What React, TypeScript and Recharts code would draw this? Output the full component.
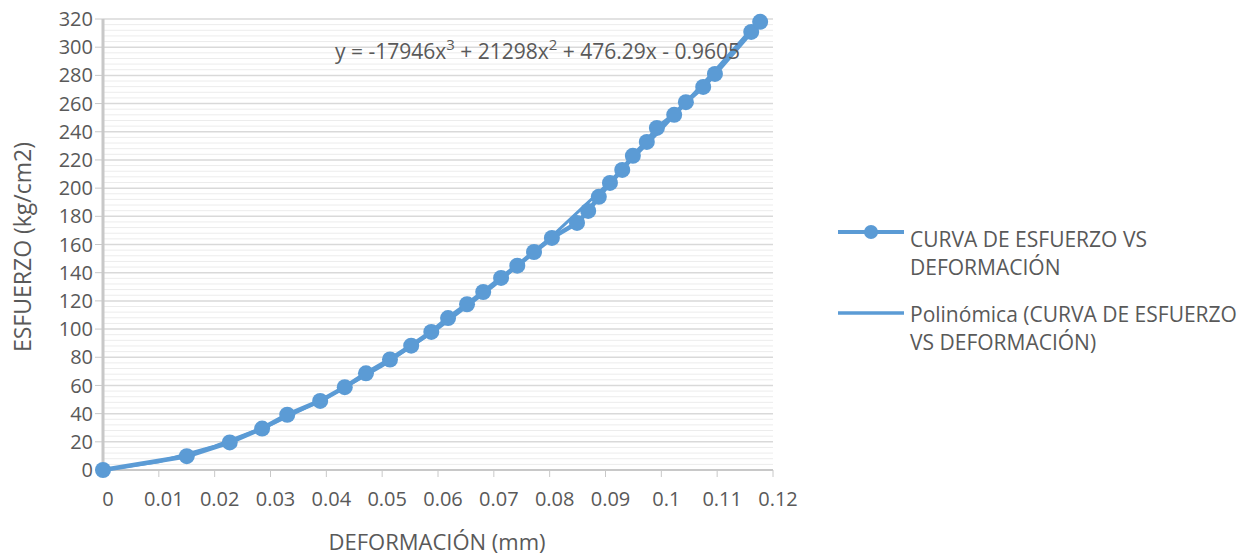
import {
  ScatterChart,
  Scatter,
  XAxis,
  YAxis,
  CartesianGrid,
} from "recharts";

// deformación (mm) y esfuerzo (kg/cm2)
const deformacion = [
  0, 0.0150, 0.0227, 0.0285, 0.0330, 0.0389, 0.0433, 0.0471, 0.0514, 0.0552,
  0.0588, 0.0618, 0.0652, 0.0681, 0.0713, 0.0742, 0.0772, 0.0804, 0.0849,
  0.0869, 0.0888, 0.0908, 0.0930, 0.0949, 0.0974, 0.0992, 0.1023, 0.1044,
  0.1075, 0.1096, 0.1161, 0.1177,
];
const esfuerzo = [
  0, 9.8, 19.6, 29.4, 39.2, 49.0, 58.8, 68.6, 78.4, 88.2, 98.0, 107.8, 117.6,
  126.3, 136.3, 145.0, 154.7, 164.7, 175.3, 183.8, 193.8, 203.7, 212.9, 222.9,
  232.8, 242.7, 252.0, 261.0, 271.8, 281.0, 310.8, 318.0,
];

// línea de tendencia polinómica (aprox. leída)
const trendX = [0, 0.01, 0.02, 0.03, 0.04, 0.05, 0.06, 0.07, 0.08, 0.09, 0.1, 0.11, 0.1177];
const trendY = [0, 5.9, 16.9, 32.0, 51.1, 73.8, 100.4, 130.6, 164.3, 201.4, 241.7, 285.2, 320];

const xTicks = [0, 0.01, 0.02, 0.03, 0.04, 0.05, 0.06, 0.07, 0.08, 0.09, 0.1, 0.11, 0.12];
const yTicks = [0, 20, 40, 60, 80, 100, 120, 140, 160, 180, 200, 220, 240, 260, 280, 300, 320];
const yMinorTicks = [
  4, 8, 12, 16, 24, 28, 32, 36, 44, 48, 52, 56, 64, 68, 72, 76, 84, 88, 92, 96,
  104, 108, 112, 116, 124, 128, 132, 136, 144, 148, 152, 156, 164, 168, 172, 176,
  184, 188, 192, 196, 204, 208, 212, 216, 224, 228, 232, 236, 244, 248, 252, 256,
  264, 268, 272, 276, 284, 288, 292, 296, 304, 308, 312, 316,
];

const BLUE = "#5B9BD5";
const TEXT = "#595959";
const FONT = "'Open Sans', sans-serif";

const data = deformacion.map((x, i) => ({ x, y: esfuerzo[i] }));
const trend = trendX.map((x, i) => ({ x, y: trendY[i] }));

const Dot = (props: any) => <circle cx={props.cx} cy={props.cy} r={8} fill={BLUE} />;
const NoDot = () => <g />;

export default function App() {
  return (
    <div
      style={{
        position: "absolute",
        left: 0,
        top: 0,
        width: 1250,
        height: 556,
        background: "#fff",
        fontFamily: FONT,
        color: TEXT,
      }}
    >
      <ScatterChart
        width={1250}
        height={556}
        margin={{ top: 19, right: 477, bottom: 46, left: 0 }}
      >
        <CartesianGrid
          vertical={false}
          horizontalValues={yMinorTicks}
          stroke="#ececec"
          strokeWidth={1}
        />
        <CartesianGrid vertical={false} stroke="#d9d9d9" strokeWidth={1.5} />
        <XAxis
          type="number"
          dataKey="x"
          domain={[0, 0.12]}
          ticks={xTicks}
          interval={0}
          height={40}
          axisLine={{ stroke: "#c8c8c8", strokeWidth: 2 }}
          tickLine={{ stroke: "#c8c8c8" }}
          tickSize={7}
          tick={{ fill: TEXT, fontSize: 20, fontFamily: FONT, dx: 5, dy: 13 }}
          tickFormatter={(v: number) => String(Number(v.toFixed(2)))}
        />
        <YAxis
          type="number"
          dataKey="y"
          domain={[0, 320]}
          ticks={yTicks}
          interval={0}
          width={103}
          axisLine={{ stroke: "#c8c8c8", strokeWidth: 3 }}
          tickLine={{ stroke: "#c8c8c8" }}
          tickSize={8}
          tick={{ fill: TEXT, fontSize: 20, fontFamily: FONT }}
        />
        <Scatter
          data={trend}
          line={{ stroke: BLUE, strokeWidth: 3 }}
          lineType="joint"
          shape={NoDot}
          isAnimationActive={false}
        />
        <Scatter
          data={data}
          line={{ stroke: BLUE, strokeWidth: 4.5 }}
          lineType="joint"
          shape={Dot}
          isAnimationActive={false}
        />
      </ScatterChart>

      {/* ecuación de la tendencia */}
      <div
        style={{
          position: "absolute",
          left: 335,
          top: 37,
          fontSize: 21,
          whiteSpace: "nowrap",
          lineHeight: "28px",
        }}
      >
        y = -17946x
        <span style={{ fontSize: 15, position: "relative", top: -9 }}>3</span> + 21298x
        <span style={{ fontSize: 15, position: "relative", top: -9 }}>2</span> + 476.29x - 0.9605
      </div>

      {/* títulos de ejes */}
      <div
        style={{
          position: "absolute",
          left: 437,
          top: 541,
          fontSize: 22,
          whiteSpace: "nowrap",
          transform: "translate(-50%, -50%)",
        }}
      >
        DEFORMACIÓN (mm)
      </div>
      <div
        style={{
          position: "absolute",
          left: 22,
          top: 247,
          fontSize: 23,
          whiteSpace: "nowrap",
          transform: "translate(-50%, -50%) rotate(-90deg)",
        }}
      >
        ESFUERZO (kg/cm2)
      </div>

      {/* leyenda */}
      <svg
        style={{ position: "absolute", left: 836, top: 220 }}
        width={70}
        height={110}
      >
        <line x1={2} y1={12} x2={68} y2={12} stroke={BLUE} strokeWidth={4} />
        <circle cx={35} cy={12} r={7} fill={BLUE} />
        <line x1={2} y1={93} x2={68} y2={93} stroke={BLUE} strokeWidth={3.5} />
      </svg>
      <div
        style={{
          position: "absolute",
          left: 910,
          top: 225,
          fontSize: 21,
          lineHeight: "28px",
          whiteSpace: "nowrap",
        }}
      >
        CURVA DE ESFUERZO VS
        <br />
        DEFORMACIÓN
      </div>
      <div
        style={{
          position: "absolute",
          left: 910,
          top: 300,
          fontSize: 21,
          lineHeight: "28px",
          whiteSpace: "nowrap",
        }}
      >
        Polinómica (CURVA DE ESFUERZO
        <br />
        VS DEFORMACIÓN)
      </div>
    </div>
  );
}
